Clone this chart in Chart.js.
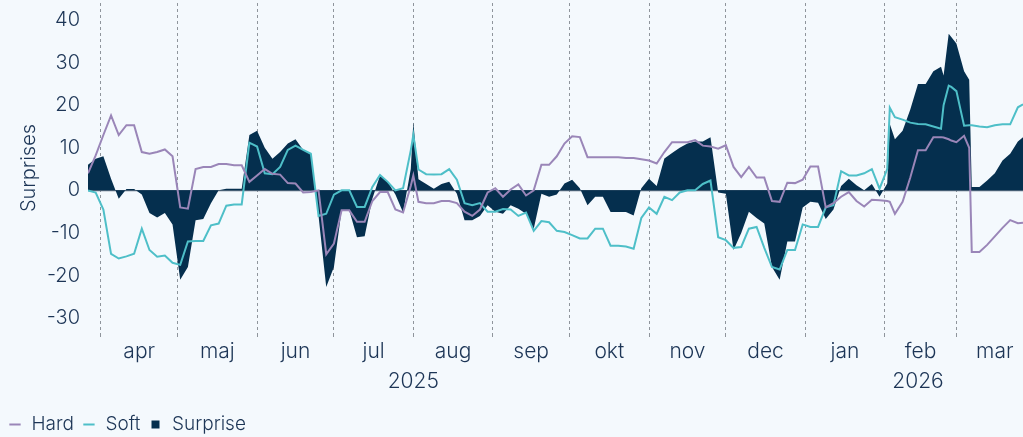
<!DOCTYPE html>
<html>
<head>
<meta charset="utf-8">
<script src="https://cdn.jsdelivr.net/npm/chart.js@4.4.1/dist/chart.umd.min.js"></script>
<style>
  html, body { margin: 0; padding: 0; background: #f4f9fd; }
  #wrap { width: 1023px; height: 437px; }
</style>
</head>
<body>
<div id="wrap"><canvas id="chart" width="1023" height="437"></canvas></div>
<script>
// dage talt fra 2025-04-01
const days = [
  -5, -2, 1, 4, 7, 10, 13, 16, 19, 22,
  25, 28, 31, 34, 37, 40, 43, 46, 49, 52,
  55, 58, 61, 64, 67, 70, 73, 76, 79, 82,
  85, 88, 91, 94, 97, 100, 103, 106, 109, 112,
  115, 118, 121, 122, 124, 127, 130, 133, 136, 139,
  142, 145, 148, 151, 154, 157, 160, 163, 166, 169,
  172, 175, 178, 181, 184, 187, 190, 193, 196, 199,
  202, 205, 208, 211, 214, 217, 220, 223, 226, 229,
  232, 235, 238, 241, 244, 247, 250, 253, 256, 259,
  262, 265, 268, 271, 274, 277, 280, 283, 286, 289,
  292, 295, 298, 301, 304, 307, 308, 310, 313, 316,
  319, 322, 325, 328, 329, 331, 332, 334, 337, 339,
  340, 343, 346, 349, 352, 355, 358, 360
];

const hard = [
  4, 8.2, 13, 17.6, 13, 15.3, 15.3, 9, 8.6, 9,
  9.6, 8, -4, -4.3, 5, 5.5, 5.5, 6.2, 6.2, 5.9,
  5.9, 2, 3.5, 5, 3.9, 3.7, 1.7, 1.6, -0.5, -0.4,
  0, -15, -12.5, -4.7, -4.7, -7.4, -7.4, -2.5, -0.4, -0.4,
  -4.5, -5.2, 1, 3.5, -2.7, -3, -3, -2.5, -2.5, -3,
  -5, -6, -4.5, -0.5, 0.5, -1.5, 0.2, 1.4, -1.2, 0,
  6, 6, 8, 11, 12.7, 12.5, 7.8, 7.8, 7.8, 7.8,
  7.8, 7.6, 7.6, 7.3, 7, 6.3, 9, 11.3, 11.3, 11.3,
  11.8, 10.5, 10.3, 9.8, 10.6, 5.5, 3.1, 5.5, 3, 3,
  -2.5, -2.7, 1.8, 1.7, 2.5, 5.6, 5.6, -4, -3, -1.5,
  -0.4, -2.5, -3.8, -2.2, -2.3, -2.5, -2.7, -5.5, -2.7, 3,
  9.4, 9.4, 12.5, 12.5, 12.4, 12, 11.7, 11.3, 12.8, 10,
  -14.5, -14.5, -12.8, -10.8, -8.8, -7, -7.7, -7.6
];

const soft = [
  0, -0.5, -4.5, -14.9, -16, -15.5, -14.9, -9, -14, -15.6,
  -15.3, -17, -17.5, -12, -11.9, -11.9, -8.2, -7.8, -3.6, -3.3,
  -3.3, 11.2, 10.3, 4, 3.8, 5.5, 9.5, 10.5, 9.5, 8.6,
  -6, -5.5, -1, 0, 0, -3.9, -3.9, 0.8, 3.6, 2,
  0, 0.5, 9.4, 13, 4.9, 3.8, 3.7, 3.8, 5, 2.5,
  -3, -3.5, -3, -5, -5, -4.4, -4.5, -6, -5.2, -9.5,
  -7.2, -7.5, -9.5, -9.8, -10.5, -11.3, -11.3, -9, -9, -13,
  -13, -13.2, -13.7, -6.5, -4, -5.5, -1.5, -2.3, -0.5, 0,
  0, 1.5, 2.3, -11, -11.7, -13.5, -13.3, -9, -8.6, -13.5,
  -18, -18.6, -14, -14, -8, -8.6, -8.6, -4, -3.5, 4.5,
  3.5, 3.5, 4, 5, 0.4, 5, 19.4, 17.2, 16.6, 15.9,
  15.6, 15.5, 15, 14.5, 20, 24.6, 24.3, 23.3, 15.2, 15.3,
  15.3, 15, 14.8, 15.3, 15.5, 15.5, 19.5, 20.2
];

const surprise = [
  6, 7.4, 8, 2.7, -2, 0.3, 0.3, -1, -5.3, -6.4,
  -5.3, -8, -21, -18, -7, -6.7, -3, 0, 0.4, 0.4,
  0.4, 13, 14, 10, 7.4, 9, 11, 12, 9.5, 8.6,
  -6, -22.7, -18, -4.7, -4.7, -11, -10.8, -2, 3.5, 2,
  -1, -5.2, 5, 16, 2.6, 1.5, 0.4, 1.5, 2, -0.8,
  -7, -7, -6, -3.5, -5, -5.5, -3.5, -4.3, -5.5, -9,
  -0.8, -1.5, -1, 1.6, 2.5, 0.5, -3.5, -1.5, -1.5, -5.1,
  -5.1, -5.1, -5.9, 0.5, 2.7, 1, 7.5, 8.8, 10, 11,
  11.5, 11.5, 12.5, -0.5, -0.8, -14, -10, -5, -6.5, -7.8,
  -18, -21, -12, -12, -4, -2.7, -2.9, -6.7, -4.5, 1,
  2.7, 1.2, 0, 1.5, -1.5, 1.6, 15.6, 12, 14, 19,
  25, 25, 28, 29, 27, 36.8, 36, 34.5, 28, 26,
  0.8, 0.8, 2.3, 4, 7, 8.6, 11.5, 12.5
];

const monthStarts = [0, 30, 61, 91, 122, 153, 183, 214, 244, 275, 306, 334];
const monthMids = [15, 45.5, 76, 106.5, 137.5, 168, 198.5, 229, 259.5, 290.5, 320, 349];
const monthNames = ['apr', 'maj', 'jun', 'jul', 'aug', 'sep', 'okt', 'nov', 'dec', 'jan', 'feb', 'mar'];
const yearPos = [122, 319];
const yearNames = ['2025', '2026'];
const yTicks = [-30, -20, -10, 0, 10, 20, 30, 40];

const BG = '#f4f9fd';
const TEXT = '#1c3556';
const FONT = 'Inter';

const pts = arr => arr.map((v, i) => ({ x: days[i], y: v }));

const bgPlugin = {
  id: 'bg',
  beforeDraw(chart) {
    const c = chart.ctx;
    c.save();
    c.fillStyle = BG;
    c.fillRect(0, 0, chart.width, chart.height);
    c.restore();
  }
};

const xMin = days[0], xMax = days[days.length - 1];

new Chart(document.getElementById('chart'), {
  type: 'line',
  data: {
    datasets: [
      {
        label: 'Hard',
        data: pts(hard),
        borderColor: '#9a86b8',
        backgroundColor: '#9a86b8',
        borderWidth: 2,
        pointRadius: 0,
        pointStyle: 'line',
        fill: false,
        order: 0
      },
      {
        label: 'Soft',
        data: pts(soft),
        borderColor: '#4ebfc8',
        backgroundColor: '#4ebfc8',
        borderWidth: 2,
        pointRadius: 0,
        pointStyle: 'line',
        fill: false,
        order: 0
      },
      {
        label: 'Surprise',
        data: pts(surprise),
        borderColor: '#052f4e',
        backgroundColor: '#052f4e',
        borderWidth: 0,
        pointRadius: 0,
        pointStyle: 'rect',
        fill: 'origin',
        order: 1
      }
    ]
  },
  options: {
    responsive: false,
    animation: false,
    devicePixelRatio: 1,
    layout: { padding: { top: 3, left: 0, right: 0, bottom: 0 } },
    plugins: {
      tooltip: { enabled: false },
      legend: {
        position: 'bottom',
        align: 'start',
        maxHeight: 30,
        labels: {
          usePointStyle: true,
          boxHeight: 8,
          boxWidth: 14,
          padding: 8,
          color: TEXT,
          font: { family: FONT, size: 19, weight: 300 }
        }
      }
    },
    scales: {
      x: {
        type: 'linear',
        min: xMin,
        max: xMax,
        afterBuildTicks: axis => { axis.ticks = monthStarts.map(v => ({ value: v })); },
        afterFit: axis => { axis.height = 5; },
        ticks: { display: false },
        grid: { color: '#8f959c', lineWidth: 1, tickLength: 4, drawTicks: true },
        border: { display: false, dash: [3, 3] }
      },
      xm: {
        type: 'linear',
        position: 'bottom',
        min: xMin,
        max: xMax,
        afterBuildTicks: axis => { axis.ticks = monthMids.map(v => ({ value: v })); },
        afterFit: axis => { axis.height = 30; },
        grid: { display: false, drawTicks: false },
        border: { display: false },
        ticks: {
          autoSkip: false,
          maxRotation: 0,
          padding: 1.5,
          color: TEXT,
          font: { family: FONT, size: 21, weight: 300 },
          callback: v => monthNames[monthMids.indexOf(v)] || ''
        }
      },
      xy: {
        type: 'linear',
        position: 'bottom',
        min: xMin,
        max: xMax,
        afterBuildTicks: axis => { axis.ticks = yearPos.map(v => ({ value: v })); },
        afterFit: axis => { axis.height = 39; },
        grid: { display: false, drawTicks: false },
        border: { display: false },
        ticks: {
          autoSkip: false,
          maxRotation: 0,
          padding: 1.5,
          color: TEXT,
          font: { family: FONT, size: 21, weight: 300 },
          callback: v => yearNames[yearPos.indexOf(v)] || ''
        }
      },
      y: {
        min: -33.5,
        max: 44,
        afterBuildTicks: axis => { axis.ticks = yTicks.map(v => ({ value: v })); },
        afterFit: axis => {
          axis.width = 88;
          axis.paddingTop = 0;
          axis.paddingBottom = 0;
        },
        grid: {
          drawTicks: false,
          lineWidth: 1.2,
          color: c => (c.tick && c.tick.value === 0 ? '#5d6f82' : 'rgba(0,0,0,0)')
        },
        border: { display: false },
        ticks: {
          padding: 8,
          color: TEXT,
          font: { family: FONT, size: 20, weight: 300 }
        },
        title: {
          display: true,
          text: 'Surprises',
          color: TEXT,
          padding: { top: 17, bottom: 0 },
          font: { family: FONT, size: 20, weight: 300 }
        }
      }
    }
  },
  plugins: [bgPlugin]
});
</script>
</body>
</html>
